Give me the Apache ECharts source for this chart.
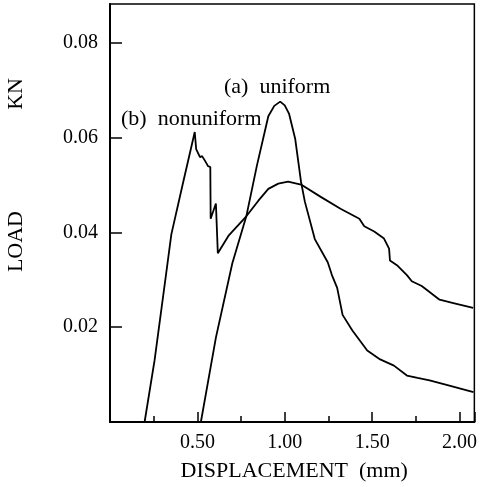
<!DOCTYPE html>
<html>
<head>
<meta charset="utf-8">
<script src="https://cdn.jsdelivr.net/npm/echarts@6/dist/echarts.min.js"></script>
<style>
  html, body { margin: 0; padding: 0; background: #fff; }
  #chart { width: 480px; height: 487px; }
</style>
</head>
<body>
<div id="chart"></div>
<script>
// displacement (mm), load (KN)
const uniformPts = [
  [0.52, 0], [0.606, 0.0178], [0.70, 0.0335], [0.78, 0.0434], [0.84, 0.054],
  [0.906, 0.0645], [0.94, 0.0667], [0.974, 0.0676], [1.00, 0.0668], [1.025, 0.065],
  [1.06, 0.0597], [1.093, 0.0507], [1.115, 0.0465], [1.172, 0.0386], [1.246, 0.0337],
  [1.27, 0.031], [1.30, 0.0283], [1.331, 0.0226], [1.387, 0.0193], [1.472, 0.0151],
  [1.546, 0.0132], [1.625, 0.0119], [1.699, 0.0098], [1.76, 0.0093], [1.829, 0.0088],
  [1.942, 0.0077], [2.08, 0.0063]
];
const nonuniformPts = [
  [0.198, 0], [0.255, 0.013], [0.323, 0.0318], [0.351, 0.0396], [0.42, 0.0508],
  [0.485, 0.0612], [0.493, 0.0576], [0.504, 0.058], [0.515, 0.0559],
  [0.527, 0.0561], [0.544, 0.0551], [0.561, 0.054], [0.574, 0.0538], [0.576, 0.0429],
  [0.606, 0.0461], [0.617, 0.0356], [0.68, 0.0394], [0.78, 0.0434], [0.849, 0.0467],
  [0.906, 0.0492], [0.963, 0.0503], [1.019, 0.0507], [1.093, 0.0501], [1.206, 0.0475],
  [1.319, 0.045], [1.427, 0.0429], [1.455, 0.0413], [1.512, 0.0402], [1.568, 0.0387],
  [1.597, 0.0366], [1.602, 0.0341], [1.642, 0.0331], [1.699, 0.031], [1.727, 0.0297],
  [1.784, 0.0287], [1.886, 0.0258], [1.965, 0.0251], [2.078, 0.0241]
];
const xTickLabels = ['0.50', '1.00', '1.50', '2.00'];
const yTickLabels = ['0.02', '0.04', '0.06', '0.08'];

const serif = 'Liberation Serif';
const chart = echarts.init(document.getElementById('chart'));

const option = {
  backgroundColor: '#fff',
  animation: false,
  grid: {
    left: 110, right: 2, top: 4, bottom: 62,
    show: true, borderColor: '#000', borderWidth: 1.5
  },
  xAxis: {
    type: 'value', min: 0, max: 2.085, interval: 0.5,
    splitLine: { show: false },
    axisLine: { lineStyle: { color: '#000', width: 2 } },
    axisTick: { inside: true, length: 10, lineStyle: { color: '#000', width: 1.5 } },
    minorTick: { show: true, splitNumber: 2, length: 6, lineStyle: { color: '#000', width: 1.5 } },
    axisLabel: {
      margin: 11, color: '#000', fontFamily: serif, fontSize: 20,
      showMaxLabel: false,
      formatter: v => xTickLabels.find(s => Math.abs(parseFloat(s) - v) < 1e-6) || ''
    },
    name: 'DISPLACEMENT  (mm)', nameLocation: 'middle', nameGap: 38,
    nameTextStyle: { color: '#000', fontFamily: serif, fontSize: 22, padding: [0, 0, 0, 4] }
  },
  yAxis: {
    type: 'value', min: 0, max: 0.0882, interval: 0.02,
    splitLine: { show: false },
    axisLine: { lineStyle: { color: '#000', width: 2 } },
    axisTick: { inside: true, length: 12, lineStyle: { color: '#000', width: 1.5 } },
    axisLabel: {
      margin: 12, color: '#000', fontFamily: serif, fontSize: 20,
      showMaxLabel: false,
      formatter: v => yTickLabels.find(s => Math.abs(parseFloat(s) - v) < 1e-6) || ''
    }
  },
  graphic: [
    { type: 'text', left: 5, top: 78, rotation: Math.PI / 2,
      style: { text: 'KN', font: '22px "Liberation Serif"', fill: '#000' } },
    { type: 'text', left: 5, top: 211, rotation: Math.PI / 2,
      style: { text: 'LOAD', font: '22px "Liberation Serif"', fill: '#000' } },
    { type: 'text', left: 224, top: 76,
      style: { text: '(a)  uniform', font: '22px "Liberation Serif"', fill: '#000' } },
    { type: 'text', left: 121, top: 108,
      style: { text: '(b)  nonuniform', font: '22px "Liberation Serif"', fill: '#000' } }
  ],
  series: [
    {
      name: 'uniform', type: 'line', data: uniformPts, showSymbol: false,
      lineStyle: { color: '#000', width: 1.8 }
    },
    {
      name: 'nonuniform', type: 'line', data: nonuniformPts, showSymbol: false,
      lineStyle: { color: '#000', width: 1.8 }
    }
  ]
};

chart.setOption(option);
</script>
</body>
</html>
